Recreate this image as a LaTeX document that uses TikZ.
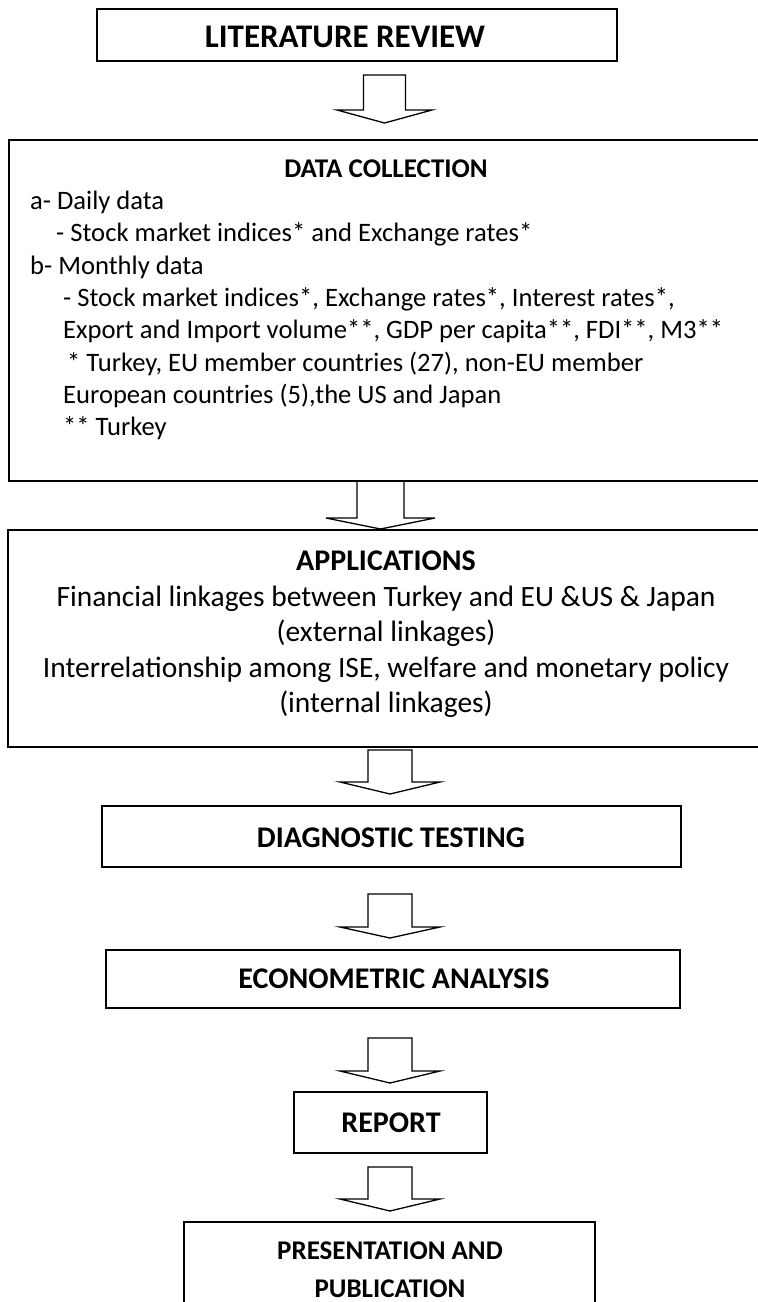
\documentclass[tikz,border=0pt]{standalone}
\usepackage{fontspec}
\setmainfont{Carlito}
\tikzset{
  box/.style={draw, line width=1.6pt, inner sep=0pt, outer sep=0pt, anchor=north west},
  hd/.style={font=\bfseries\fontsize{30}{34}\selectfont, anchor=base, inner sep=0pt},
  hdbig/.style={font=\bfseries\fontsize{33}{38}\selectfont, anchor=base, inner sep=0pt},
  hdsmall/.style={font=\bfseries\fontsize{27}{32}\selectfont, anchor=base, inner sep=0pt},
  txt/.style={font=\fontsize{26.6}{31}\selectfont, anchor=base west, inner sep=0pt},
  txtc/.style={font=\fontsize{29.5}{34}\selectfont, anchor=base, inner sep=0pt},
  arrowline/.style={draw, line width=1.3pt, line join=miter},
  pics/downarrow/.style n args={4}{code={
    \draw[arrowline] (-#1,0) -- (-#1,#3) -- (-#2,#3) -- (0,#3+#4) -- (#2,#3) -- (#1,#3) -- (#1,0) -- cycle;
  }}
}
\begin{document}
\begin{tikzpicture}[x=1pt,y=-1pt]
\useasboundingbox (0,0) rectangle (758,1302);
\clip (0,0) rectangle (758,1302);
% boxes
\node[box, minimum width=520, minimum height=52] (lit) at (97,9) {};
\node[box, minimum width=753, minimum height=341] (data) at (9,140) {};
\node[box, minimum width=754, minimum height=217] (app) at (8,530) {};
\node[box, minimum width=579, minimum height=61] (diag) at (102,806) {};
\node[box, minimum width=574, minimum height=58] (econ) at (106,950) {};
\node[box, minimum width=193, minimum height=61] (rep) at (294,1092) {};
\node[box, minimum width=411, minimum height=110] (pres) at (184,1222) {};
% texts
\node[hdbig] (litT) at (345,47.5) {LITERATURE REVIEW};
\node[hdsmall] (dataT) at (386,177) {DATA COLLECTION};
\node[txt] (d1) at (30,209) {a- Daily data};
\node[txt] (d2) at (56,241) {- Stock market indices* and Exchange rates*};
\node[txt] (d3) at (30,274) {b- Monthly data};
\node[txt] (d4) at (63,306) {- Stock market indices*, Exchange rates*, Interest rates*,};
\node[txt] (d5) at (63,338) {Export and Import volume**, GDP per capita**, FDI**, M3**};
\node[txt] (d6) at (67,371) {* Turkey, EU member countries (27), non-EU member};
\node[txt] (d7) at (63,403) {European countries (5),the US and Japan};
\node[txt] (d8) at (63,435) {** Turkey};
\node[hd] (appT) at (386,570) {APPLICATIONS};
\node[txtc] (a1) at (386,606) {Financial linkages between Turkey and EU \&US \& Japan};
\node[txtc] (a2) at (386,641) {(external linkages)};
\node[txtc] (a3) at (386,677) {Interrelationship among ISE, welfare and monetary policy};
\node[txtc] (a4) at (386,712) {(internal linkages)};
\node[hd] (diagT) at (391,847) {DIAGNOSTIC TESTING};
\node[hd] (econT) at (394,988) {ECONOMETRIC ANALYSIS};
\node[hd] (repT) at (391,1132) {REPORT};
\node[hdsmall] (presT1) at (390,1259) {PRESENTATION AND};
\node[hdsmall] (presT2) at (390,1297) {PUBLICATION};
% block arrows
\coordinate (ar1) at (384.5,75);
\coordinate (ar2) at (380.5,481);
\coordinate (ar3) at (390,750);
\coordinate (ar4) at (390,894);
\coordinate (ar5) at (390,1038);
\coordinate (ar6) at (390,1167);
\pic at (ar1) {downarrow={21}{47.5}{35}{13}};
\pic at (ar2) {downarrow={23.5}{54.5}{37}{11}};
\pic at (ar3) {downarrow={22}{50}{32}{12}};
\pic at (ar4) {downarrow={22}{50}{33}{11}};
\pic at (ar5) {downarrow={22}{50}{33}{12}};
\pic at (ar6) {downarrow={22}{50}{32}{12}};
\end{tikzpicture}
\end{document}
